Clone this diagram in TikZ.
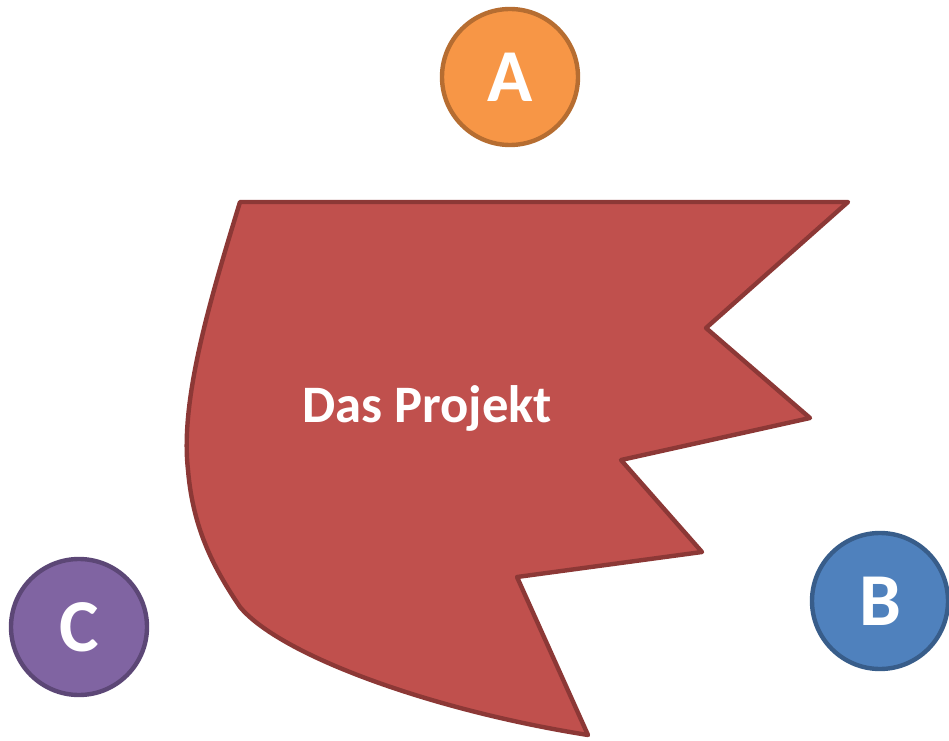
\documentclass[tikz,border=0pt]{standalone}
\usepackage{fontspec}
\setmainfont{Carlito}
\definecolor{redfill}{HTML}{C0504D}
\definecolor{redline}{HTML}{8C3836}
\definecolor{orfill}{HTML}{F79646}
\definecolor{orline}{HTML}{B66D31}
\definecolor{blfill}{HTML}{4F81BD}
\definecolor{blline}{HTML}{385D8A}
\definecolor{pufill}{HTML}{8064A2}
\definecolor{puline}{HTML}{5C4776}
\tikzset{
  ball/.style={circle, minimum size=102pt, inner sep=0pt, line width=3.3pt,
    text=white, font=\bfseries\fontsize{56pt}{60pt}\selectfont},
}
\begin{document}
\begin{tikzpicture}[x=0.75pt,y=-0.75pt]
\useasboundingbox (0,0) rectangle (949,741);
\draw[fill=redfill, draw=redline, line width=3.3pt, line join=round]
  (240,202) -- (848,202) -- (706,328) -- (810,418) -- (621,460) -- (702,552)
  -- (517,577) -- (588,735)
  .. controls (430,710) and (280,655) .. (240,607)
  .. controls (215,570) and (193,530) .. (188,470)
  .. controls (180,400) and (210,300) .. (240,202) -- cycle;
\node[text=white, font=\bfseries\fontsize{39.5pt}{44pt}\selectfont] (proj) at (427,408) {Das Projekt};
\node[ball, fill=orfill, draw=orline] (a) at (510,77) {A};
\node[ball, fill=blfill, draw=blline] (b) at (880,601) {B};
\node[ball, fill=pufill, draw=puline] (c) at (79,627) {C};
\end{tikzpicture}
\end{document}
